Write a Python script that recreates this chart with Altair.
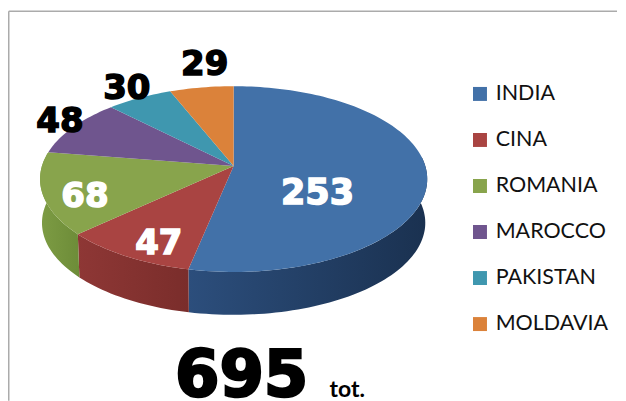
import math
import altair as alt

countries = ["INDIA", "CINA", "ROMANIA", "MAROCCO", "PAKISTAN", "MOLDAVIA"]
values = [253, 47, 68, 48, 30, 29]
colors = ["#4271A8", "#A94442", "#88A44C", "#6F558E", "#3F97AF", "#DB823A"]
total_label = "695"
total_unit = "tot."

W, H = 610, 393
AX, AY = 226, 158      # pie apex inside the chart
A, B, K = 192, 91.2, 0.14
DEPTH, SHRINK = 44, 0.99


def rim(deg, scale=1.0, dy=0.0):
    t = math.radians(deg)
    X, Y = math.sin(t), math.cos(t)
    w = 1 + K * Y
    return [AX + scale * A * X / w, AY + dy - scale * B * Y / w]


def feature(ring, **props):
    return {"type": "Feature", "properties": props,
            "geometry": {"type": "Polygon", "coordinates": [ring]}}


total = sum(values)
edges = [0.0]
for v in values:
    edges.append(edges[-1] + 360.0 * v / total)

tops = []
for i, name in enumerate(countries):
    a0, a1 = edges[i], edges[i + 1]
    n = max(2, int((a1 - a0) / 1.5))
    ring = [[AX, AY]] + [rim(a0 + (a1 - a0) * j / n) for j in range(n + 1)] + [[AX, AY]]
    tops.append(feature(ring, country=name))

proj = alt.Projection(type="identity", scale=1, translate=[0, 0]).to_dict()

# left colour, right colour of each visible side wall
wall_shades = [("#2c4e7c", "#1a3150"), ("#8e3735", "#7a2d2b"), ("#7d9c44", "#6d8c38")]
wall_layers = []
for i, (left, right) in enumerate(wall_shades):
    a0, a1 = max(edges[i], 84.0), min(edges[i + 1], 281.0)
    n = max(2, int((a1 - a0) / 1.5))
    upper = [rim(a0 + (a1 - a0) * j / n) for j in range(n + 1)]
    lower = [rim(a0 + (a1 - a0) * j / n, SHRINK, DEPTH) for j in range(n, -1, -1)]
    ring = upper + lower + [upper[0]]
    gradient = alt.LinearGradient(gradient="linear", x1=0, x2=1, y1=0, y2=0,
                                  stops=[alt.GradientStop(color=left, offset=0),
                                         alt.GradientStop(color=right, offset=1)])
    wall_layers.append(
        alt.Chart(alt.InlineData(values=[feature(ring, country=countries[i])]))
        .mark_geoshape(fill=gradient, strokeWidth=0)
        .encode(tooltip=alt.value(None))
        .project(**proj)
    )

top_layer = alt.Chart(alt.InlineData(values=tops)).mark_geoshape(strokeWidth=0).encode(
    color=alt.Color(
        "properties.country:N",
        sort=countries,
        scale=alt.Scale(domain=countries, range=colors),
        legend=alt.Legend(
            orient="none", legendX=462, legendY=75, title=None,
            symbolType="square", symbolSize=196, symbolStrokeWidth=0,
            labelFont="Lato", labelFontSize=21.5, labelColor="#111111",
            labelOffset=5, rowPadding=23.1, labelLimit=200,
        ),
    ),
).project(**proj)


def text(label, px, py, size, color="black", stroke=1.5, font="DejaVu Sans", weight="bold", align="center", baseline="middle"):
    return alt.Chart(alt.Data(values=[{"t": label}])).mark_text(
        x=px - 8, y=py - 8, fontSize=size, font=font, fontWeight=weight, align=align,
        baseline=baseline, color=color, stroke=color, strokeWidth=stroke,
    ).encode(text="t:N")


labels = [
    text(str(values[0]), 318, 193, 35, "white"),
    text(str(values[1]), 159, 244, 34, "white"),
    text(str(values[2]), 85, 197, 34, "white"),
    text(str(values[3]), 60, 122, 34),
    text(str(values[4]), 127, 89, 34),
    text(str(values[5]), 205, 65, 34),
    text(total_label, 242, 396, 64, stroke=2.5, baseline="alphabetic"),
    text(total_unit, 330, 397, 23, stroke=0, font="Lato", align="left", baseline="alphabetic"),
]

frame = [
    alt.Chart(alt.Data(values=[{"a": 0}])).mark_rule(color="#ababab", strokeWidth=1.5).encode(
        x=alt.value(0.75), y=alt.value(3), y2=alt.value(H)),
    alt.Chart(alt.Data(values=[{"a": 0}])).mark_rule(color="#ababab", strokeWidth=1.5).encode(
        x=alt.value(0.75), x2=alt.value(W), y=alt.value(3)),
]

chart = alt.layer(*frame, *wall_layers, top_layer, *labels).properties(
    width=W, height=H, padding=0, background="white",
).configure_view(stroke=None)

chart.save("out.html", embed_options={"renderer": "svg", "actions": False})
